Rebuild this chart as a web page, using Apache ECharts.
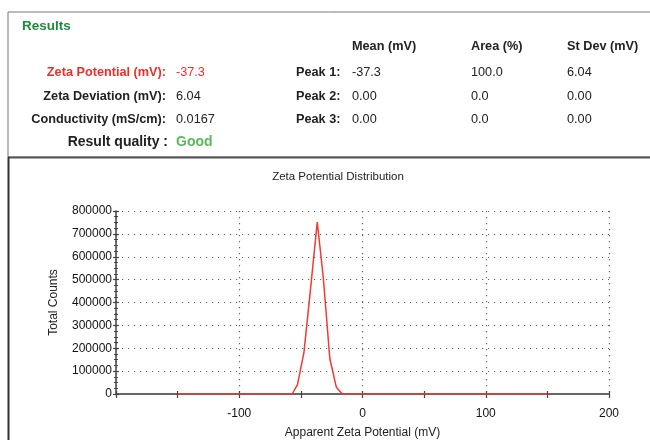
<!DOCTYPE html>
<html>
<head>
<meta charset="utf-8">
<script src="https://cdn.jsdelivr.net/npm/echarts@6/dist/echarts.min.js"></script>
<style>
html,body{margin:0;padding:0;background:#fff;}
#c{width:650px;height:440px;}
</style>
</head>
<body>
<div id="c"></div>
<script>
// ---- data ----
var chartTitle = 'Zeta Potential Distribution';
var xAxisName = 'Apparent Zeta Potential (mV)';
var yAxisName = 'Total Counts';
var zetaMv = [-150, -57, -52.7, -47.5, -42, -36.7, -31.8, -26.5, -21.2, -16.4, 150];
var totalCounts = [0, 0, 42000, 182000, 468000, 752000, 507000, 154000, 29000, 0, 0];
var xTickLabels = ['-100', '0', '100', '200'];

var summaryLabels = ['Zeta Potential (mV):', 'Zeta Deviation (mV):', 'Conductivity (mS/cm):', 'Result quality :'];
var summaryValues = ['-37.3', '6.04', '0.0167', 'Good'];
var peakHeaders = ['Mean (mV)', 'Area (%)', 'St Dev (mV)'];
var peakNames = ['Peak 1:', 'Peak 2:', 'Peak 3:'];
var peakMean = ['-37.3', '0.00', '0.00'];
var peakArea = ['100.0', '0.0', '0.0'];
var peakStDev = ['6.04', '0.00', '0.00'];

// ---- build ----
var FONT = '"Liberation Sans", Arial, sans-serif';
var rowY = [72, 96, 119, 142];
var colX = [352, 471, 567];
var g = [];
g.push({type:'rect', shape:{x:8, y:12, width:700, height:145}, style:{fill:'none', stroke:'#777', lineWidth:1}, silent:true});
g.push({type:'line', shape:{x1:8, y1:157.5, x2:660, y2:157.5}, style:{stroke:'#555', lineWidth:2}, silent:true});
g.push({type:'line', shape:{x1:8.5, y1:157, x2:8.5, y2:445}, style:{stroke:'#333', lineWidth:2}, silent:true});
g.push({type:'text', x:22, y:26, style:{text:'Results', font:'bold 13.5px ' + FONT, fill:'#1f8a3a', verticalAlign:'middle'}});
peakHeaders.forEach(function(h, i){
  g.push({type:'text', x:colX[i], y:46, style:{text:h, font:'bold 12.7px ' + FONT, fill:'#222', verticalAlign:'middle'}});
});
summaryLabels.forEach(function(l, i){
  var isLast = i === summaryLabels.length - 1;
  var col = i === 0 ? '#e8302a' : '#222';
  var vcol = i === 0 ? '#e8302a' : (isLast ? '#5cb85c' : '#222');
  var fs = isLast ? 14 : 12.7;
  g.push({type:'text', x:isLast ? 168 : 166, y:rowY[i], style:{text:l, font:'bold ' + fs + 'px ' + FONT, fill:col, align:'right', verticalAlign:'middle'}});
  g.push({type:'text', x:176, y:rowY[i], style:{text:summaryValues[i], font:(isLast ? 'bold ' : '') + fs + 'px ' + FONT, fill:vcol, verticalAlign:'middle'}});
});
peakNames.forEach(function(p, i){
  g.push({type:'text', x:296, y:rowY[i], style:{text:p, font:'bold 12.7px ' + FONT, fill:'#222', verticalAlign:'middle'}});
  [peakMean, peakArea, peakStDev].forEach(function(arr, j){
    g.push({type:'text', x:colX[j], y:rowY[i], style:{text:arr[i], font:'12.7px ' + FONT, fill:'#222', verticalAlign:'middle'}});
  });
});

var dotted = {color:'#666', width:1.2, type:[1.2, 4.8]};
var tickStyle = {color:'#444', width:1.2};
var xBase = {type:'value', min:-200, max:200, interval:100, position:'bottom'};
var yBase = {type:'value', min:0, max:800000, interval:100000, position:'left'};
var chart = echarts.init(document.getElementById('c'));
chart.setOption({
  animation:false,
  backgroundColor:'#fff',
  title:{text:chartTitle, left:333, top:166, textAlign:'center',
    textStyle:{fontFamily:FONT, fontSize:11.5, fontWeight:'normal', color:'#222'}},
  grid:{left:116, right:41, top:211, bottom:42.5},
  xAxis:[Object.assign({}, xBase, {
    name:xAxisName, nameLocation:'middle', nameGap:33,
    nameTextStyle:{fontFamily:FONT, fontSize:12, color:'#222'},
    axisLine:{show:true, onZero:false, lineStyle:{color:'#666', width:2}},
    axisTick:{show:true, length:4, lineStyle:tickStyle},
    minorTick:{show:true, splitNumber:2, length:4, lineStyle:tickStyle},
    axisLabel:{fontFamily:FONT, fontSize:12, color:'#111', margin:14,
      formatter:function(v){ var s = String(v); return xTickLabels.indexOf(s) >= 0 ? s : ''; }},
    splitLine:{show:true, lineStyle:dotted}
  }), Object.assign({}, xBase, {
    axisLine:{show:false, onZero:false},
    axisTick:{show:true, inside:true, length:3, lineStyle:tickStyle},
    minorTick:{show:true, splitNumber:2, length:3, lineStyle:tickStyle},
    axisLabel:{show:false}, splitLine:{show:false}
  })],
  yAxis:[Object.assign({}, yBase, {
    name:yAxisName, nameLocation:'middle', nameGap:56,
    nameTextStyle:{fontFamily:FONT, fontSize:12, color:'#222'},
    axisLine:{show:true, onZero:false, lineStyle:{color:'#444', width:1.5}},
    axisTick:{show:true, length:3, lineStyle:tickStyle},
    minorTick:{show:true, splitNumber:4, length:2, lineStyle:tickStyle},
    axisLabel:{fontFamily:FONT, fontSize:12, color:'#111', margin:4,
      formatter:function(v){ return String(v); }},
    splitLine:{show:true, lineStyle:dotted}
  }), Object.assign({}, yBase, {
    axisLine:{show:false, onZero:false},
    axisTick:{show:true, inside:true, length:3, lineStyle:tickStyle},
    minorTick:{show:true, splitNumber:4, length:2, lineStyle:tickStyle},
    axisLabel:{show:false}, splitLine:{show:false}
  })],
  series:[{type:'line', xAxisIndex:0, yAxisIndex:0,
    data:zetaMv.map(function(x, i){ return [x, totalCounts[i]]; }),
    showSymbol:false, lineStyle:{color:'#f03a32', width:1.5}, z:3}],
  graphic:g
});
</script>
</body>
</html>
